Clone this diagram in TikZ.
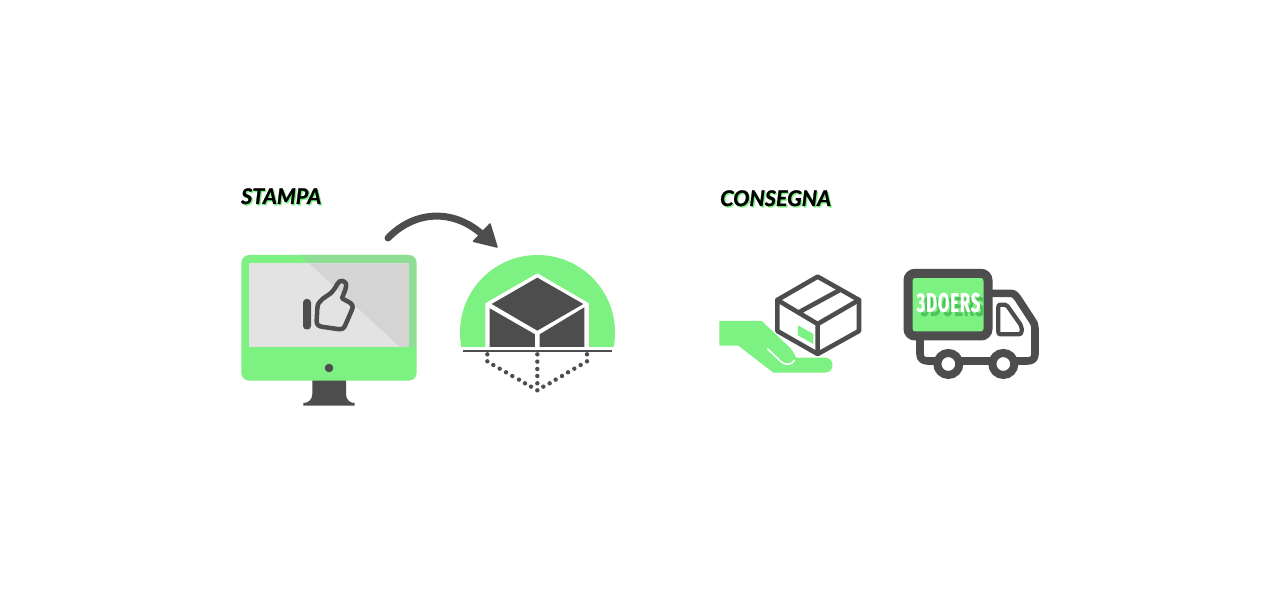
\documentclass[tikz,border=0pt]{standalone}
\usepackage{fontspec}
\setmainfont{Lato}
\newfontfamily\headfont[FakeBold=1.2]{Lato}
\newfontfamily\truckfont[FakeStretch=0.62,FakeBold=0.5,LetterSpace=3]{Fira Sans}
\definecolor{brandgreen}{HTML}{7DF282}
\definecolor{darkgrey}{HTML}{4D4D4D}
\definecolor{shadegreen}{HTML}{8FDE96}
\definecolor{screenlight}{HTML}{E3E3E3}
\definecolor{screendark}{HTML}{D4D4D4}
\definecolor{logoshadow}{HTML}{4FC45C}
\tikzset{
  heading/.style={font=\headfont\fontsize{21.5}{21.5}\selectfont\bfseries\itshape,anchor=base west,inner sep=0pt,text=black},
  headshadow/.style={heading,text=brandgreen},
  logotext/.style={font=\truckfont\bfseries\fontsize{27}{27}\selectfont,anchor=center,inner sep=0pt},
  darkline/.style={draw=darkgrey,line join=round,line cap=round},
  whitegap/.style={draw=white,line width=1.6pt},
  zoomA/.style={shift={(230,175)},x=0.3333pt,y=-0.3333pt},
  zoomB/.style={shift={(440,200)},x=0.3333pt,y=-0.3333pt},
  zoomC/.style={shift={(710,180)},x=0.3333pt,y=-0.3333pt},
  zoomD/.style={shift={(895,260)},x=0.3333pt,y=-0.3333pt},
}
\begin{document}
\begin{tikzpicture}[x=1pt,y=-1pt]
\useasboundingbox (0,0) rectangle (1280,593);
\fill[white] (0,0) rectangle (1280,593);

% headings
\node[headshadow] (stampaS) at (242.3,205.3) {STAMPA};
\node[heading] (stampa) at (241,204) {STAMPA};
\node[headshadow] (consegnaS) at (721.3,207.3) {CONSEGNA};
\node[heading] (consegna) at (720,206) {CONSEGNA};

% monitor
\fill[darkgrey] (312.3,380) -- (346,380) -- (346,394) .. controls (346,400) and (350,403) .. (354.7,403) -- (354.7,405.7) -- (303.3,405.7) -- (303.3,403) .. controls (308,403) and (312.3,400) .. (312.3,394) -- cycle;
\fill[brandgreen,rounded corners=8pt] (241.3,255) rectangle (416.7,380.7);
\begin{scope}
  \clip[rounded corners=8pt] (241.3,255) rectangle (416.7,380.7);
  \fill[shadegreen] (300,255) -- (416.7,255) -- (416.7,347) -- (400,347) -- cycle;
\end{scope}
\fill[screenlight] (249.3,263.3) rectangle (409,347);
\fill[screendark] (309,263.3) -- (409,263.3) -- (409,347) -- (400,347) -- cycle;
\fill[darkgrey] (329,368) circle (4.3);
% thumb
\fill[darkgrey,rounded corners=3.5pt] (303,299) rectangle (311,329.5);
\begin{scope}[zoomA]
\draw[darkline,line width=4.5pt] (262,400) .. controls (262,375) and (290,365) .. (302,355) .. controls (312,345) and (318,335) .. (322,327) .. controls (328,312) and (352,315) .. (348,335) .. controls (346,348) and (340,358) .. (336,370) -- (358,382) .. controls (368,388) and (370,395) .. (366,404) -- (347,448) .. controls (342,462) and (335,464) .. (322,462) -- (280,456) .. controls (265,454) and (260,450) .. (260,438) -- cycle;
\end{scope}

% arrow
\coordinate (arrowstart) at (388,238);
\coordinate (arrowend) at (485,237);
\draw[darkline,line width=7pt,line cap=round] (arrowstart) .. controls (415,210) and (455,208) .. (arrowend);
\fill[darkgrey,draw=darkgrey,line width=1.5pt,line join=round] (490,224) -- (497,247) -- (473.5,241.3) -- cycle;

% dome
\begin{scope}
  \clip (450,250) rectangle (625,347);
  \fill[brandgreen] (537.5,332.5) circle (77.5);
\end{scope}
\begin{scope}[zoomB]
\fill[white] (136,447) -- (136,310) -- (292,220) -- (447,310) -- (447,447) -- cycle;
\fill[darkgrey] (292,233) -- (430,312) -- (292,392) -- (155,312) -- cycle;
\fill[darkgrey] (149,325) -- (285,403) -- (285,441) -- (149,441) -- cycle;
\fill[darkgrey] (299,403) -- (433,322) -- (433,441) -- (299,441) -- cycle;
\draw[draw=darkgrey,line width=1.6pt] (69,453) -- (515,453);
\foreach \px/\py in {142/463,142/484,160/495,179/506,198/517,217/528,237/539,255/550,273/560,
  292/463,292/485,292/507,292/528,292/550,292/571,
  441/463,441/484,422/495,403/506,384/517,366/528,347/539,329/550,310/560}
  \fill[darkgrey] (\px,\py) circle (2.2pt);
\end{scope}

% hand and parcel
\begin{scope}[zoomC]
\fill[brandgreen,line join=round] (28,423) -- (155,423) -- (240,503) .. controls (250,515) and (255,525) .. (258,533) -- (345,533) .. controls (375,533) and (375,578) .. (345,578) -- (190,578) -- (85,497) -- (28,497) -- cycle;
\draw[whitegap] (172,506) -- (212,544) .. controls (228,558) and (245,555) .. (254,540);
\fill[white] (323,290) -- (447,360) -- (447,453) -- (323,522) -- (202,453) -- (202,360) -- cycle;
\fill[brandgreen] (264,436) -- (310,462) -- (310,492) -- (264,466) -- cycle;
\draw[darkline,line width=4.6pt] (323,290) -- (447,360) -- (447,453) -- (323,522) -- (202,453) -- (202,360) -- cycle;
\draw[darkline,line width=4.6pt] (202,360) -- (323,432) -- (447,360) (323,432) -- (323,522) (272,394) -- (386,332);
\end{scope}

% truck
\begin{scope}[zoomD]
\draw[darkline,line width=7.6pt] (292,100) -- (345,100) .. controls (358,100) and (362,106) .. (368,114) -- (411,180) .. controls (417,188) and (420,194) .. (420,205) -- (420,282) .. controls (420,298) and (410,303) .. (397,303) -- (362,303);
\draw[darkline,line width=7.6pt] (295,303) -- (195,303);
\draw[darkline,line width=7.6pt] (125,303) -- (98,303) .. controls (84,303) and (75,296) .. (75,282) -- (75,232);
\draw[draw=darkgrey,line width=4.2pt,line join=round] (316,134) -- (330,134) .. controls (334,134) and (336,136) .. (338,139) -- (376,193) .. controls (379,197) and (380,200) .. (380,205) -- (380,214) .. controls (380,220) and (376,223) .. (371,223) -- (316,223) .. controls (312,223) and (310,220) .. (310,216) -- (310,140) .. controls (310,136) and (312,134) .. (316,134) -- cycle;
\draw[draw=darkgrey,fill=white,line width=8pt] (160,312) circle (11pt);
\draw[draw=darkgrey,fill=white,line width=8pt] (325,312) circle (11pt);
\draw[draw=darkgrey,fill=brandgreen,line width=9pt,rounded corners=7pt] (39,40) rectangle (279,228);
\end{scope}
\node[logotext,text=logoshadow] (logoS) at (952.5,306.5) {3DOERS};
\node[logotext,text=white] (logo) at (948.5,302.5) {3DOERS};
\end{tikzpicture}
\end{document}
